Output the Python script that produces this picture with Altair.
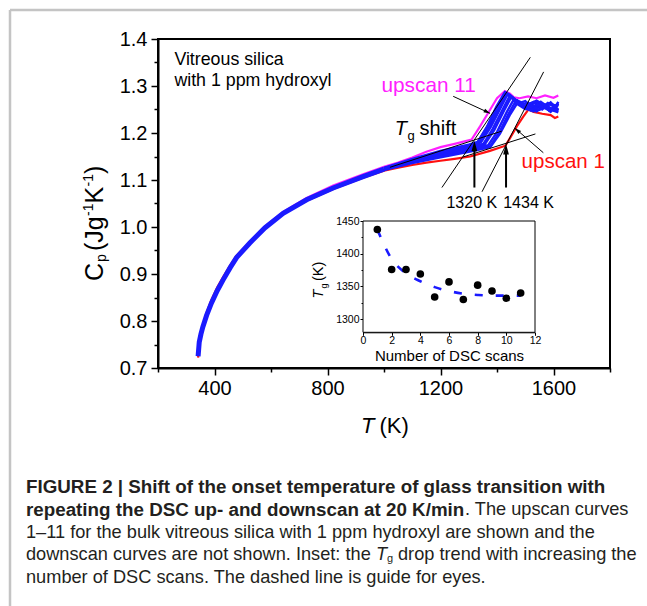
import altair as alt
import pandas as pd

FONT = "Liberation Sans"
W, H = 452, 329
PL, PT = 158, 39

# ---------------- main data ----------------
# shared low-temperature part of the blue upscans 2-10
blue_low_T = [342, 346, 352, 359, 372, 389, 410, 430, 455, 478, 525, 578, 643, 726, 820, 926, 1000]
blue_low_Cp = [0.725, 0.755, 0.772, 0.788, 0.812, 0.838, 0.865, 0.887, 0.913, 0.935, 0.966, 0.998, 1.029, 1.058, 1.083, 1.107, 1.123]

# upscan 1 (red)
red_T = [342, 346, 352, 359, 372, 389, 410, 430, 455, 478, 525, 578, 643, 726, 820, 926, 1000,
         1050, 1100, 1150, 1200, 1250, 1305, 1375, 1430, 1446, 1470, 1493, 1511, 1530, 1560, 1590, 1605, 1617]
red_Cp = [0.722, 0.752, 0.772, 0.790, 0.818, 0.845, 0.872, 0.893, 0.918, 0.939, 0.968, 0.998, 1.028, 1.056, 1.081, 1.105, 1.120,
          1.126, 1.132, 1.137, 1.141, 1.145, 1.150, 1.162, 1.173, 1.189, 1.214, 1.235, 1.250, 1.245, 1.241, 1.238, 1.232, 1.235]

# upscan 11 (magenta)
mag_T = [342, 346, 352, 359, 372, 389, 410, 430, 455, 478, 525, 578, 643, 726, 820, 926, 1000,
         1050, 1100, 1150, 1200, 1250, 1310, 1340, 1375, 1400, 1428, 1445, 1460, 1480, 1510, 1540, 1570, 1600, 1617]
mag_Cp = [0.730, 0.757, 0.774, 0.790, 0.813, 0.839, 0.866, 0.888, 0.914, 0.936, 0.968, 1.001, 1.032, 1.062, 1.088, 1.112, 1.128,
          1.137, 1.148, 1.160, 1.170, 1.177, 1.186, 1.214, 1.249, 1.274, 1.289, 1.284, 1.276, 1.274, 1.278, 1.274, 1.280, 1.275, 1.280]

# high-temperature parts of upscans 2-10 (blue)
scan2_T = [1000, 1100, 1200, 1300, 1376, 1410, 1445, 1470, 1485, 1500, 1530, 1560, 1590, 1617]
scan2_Cp = [1.121, 1.136, 1.148, 1.160, 1.170, 1.198, 1.238, 1.262, 1.264, 1.252, 1.246, 1.262, 1.245, 1.263]
scan3_T = [1000, 1100, 1200, 1300, 1376, 1410, 1440, 1465, 1480, 1497, 1530, 1560, 1590, 1617]
scan3_Cp = [1.122, 1.138, 1.151, 1.163, 1.172, 1.203, 1.240, 1.266, 1.267, 1.258, 1.266, 1.250, 1.265, 1.248]
scan4_T = [1000, 1100, 1200, 1300, 1369, 1400, 1435, 1458, 1472, 1490, 1520, 1555, 1585, 1617]
scan4_Cp = [1.123, 1.139, 1.153, 1.165, 1.174, 1.202, 1.245, 1.270, 1.270, 1.259, 1.250, 1.266, 1.247, 1.262]
scan5_T = [1000, 1100, 1200, 1300, 1334, 1370, 1405, 1432, 1450, 1470, 1500, 1540, 1580, 1617]
scan5_Cp = [1.124, 1.142, 1.158, 1.171, 1.177, 1.210, 1.252, 1.282, 1.277, 1.262, 1.268, 1.246, 1.264, 1.250]
scan6_T = [1000, 1100, 1200, 1300, 1357, 1390, 1425, 1450, 1466, 1485, 1520, 1560, 1600, 1617]
scan6_Cp = [1.123, 1.140, 1.155, 1.168, 1.176, 1.206, 1.248, 1.276, 1.271, 1.260, 1.248, 1.264, 1.249, 1.266]
scan7_T = [1000, 1100, 1200, 1300, 1330, 1365, 1400, 1430, 1448, 1468, 1500, 1540, 1580, 1617]
scan7_Cp = [1.125, 1.143, 1.160, 1.173, 1.179, 1.212, 1.255, 1.285, 1.279, 1.263, 1.251, 1.267, 1.252, 1.244]
scan8_T = [1000, 1100, 1200, 1300, 1352, 1385, 1420, 1445, 1462, 1480, 1510, 1550, 1590, 1617]
scan8_Cp = [1.124, 1.141, 1.157, 1.169, 1.177, 1.209, 1.250, 1.279, 1.273, 1.261, 1.264, 1.249, 1.262, 1.256]
scan9_T = [1000, 1100, 1200, 1300, 1343, 1378, 1412, 1438, 1455, 1472, 1505, 1545, 1585, 1617]
scan9_Cp = [1.125, 1.143, 1.159, 1.172, 1.180, 1.213, 1.253, 1.283, 1.277, 1.263, 1.254, 1.260, 1.248, 1.261]
scan10_T = [1000, 1100, 1200, 1300, 1332, 1365, 1398, 1428, 1446, 1466, 1500, 1540, 1580, 1617]
scan10_Cp = [1.126, 1.145, 1.162, 1.175, 1.181, 1.214, 1.256, 1.287, 1.281, 1.265, 1.257, 1.269, 1.255, 1.246]

blue_scans = {
    "2": (scan2_T, scan2_Cp), "3": (scan3_T, scan3_Cp), "4": (scan4_T, scan4_Cp),
    "5": (scan5_T, scan5_Cp), "6": (scan6_T, scan6_Cp), "7": (scan7_T, scan7_Cp),
    "8": (scan8_T, scan8_Cp), "9": (scan9_T, scan9_Cp), "10": (scan10_T, scan10_Cp),
}

# tangent (onset construction) lines: start T, start Cp, end T, end Cp
tan_T1 = [1205, 1347, 1021, 1280]
tan_Cp1 = [1.084, 1.075, 1.127, 1.149]
tan_T2 = [1518, 1565, 1417, 1536]
tan_Cp2 = [1.361, 1.330, 1.204, 1.198]

# onset arrows
onset_T = [1320, 1432]
onset_base = [1.084, 1.084]
onset_tip = [1.183, 1.176]
onset_head = [1.1725, 1.1655]

# label pointers
ptr_T1 = [1245, 1564]
ptr_Cp1 = [1.278, 1.158]
ptr_T2 = [1375, 1464]
ptr_Cp2 = [1.242, 1.210]
ptr_headT = [1365.5, 1471.5]
ptr_headCp = [1.2448, 1.2058]
ptr_angle = [116, 310]

# inset data
scans = [1, 2, 3, 4, 5, 6, 7, 8, 9, 10, 11]
tg_vals = [1437, 1376, 1376, 1369, 1334, 1357, 1330, 1352, 1343, 1332, 1340]
guide_n = [1, 2, 3, 4, 5, 6, 7, 8, 9, 10, 11]
guide_tg = [1437, 1392, 1370, 1358, 1349, 1343, 1339, 1337, 1336, 1336, 1336]

# ---------------- build tables ----------------
red_df = pd.DataFrame({"series": "1", "T": red_T, "Cp": red_Cp})
mag_df = pd.DataFrame({"series": "11", "T": mag_T, "Cp": mag_Cp})
blue_low_df = pd.DataFrame({"series": "low", "T": blue_low_T, "Cp": blue_low_Cp})
rows = []
for k, (ts, cs) in blue_scans.items():
    for t, c in zip(ts, cs):
        rows.append({"series": k, "T": t, "Cp": c})
blue_df = pd.DataFrame(rows)

tan_df = pd.DataFrame({"T": tan_T1, "Cp": tan_Cp1, "T2": tan_T2, "Cp2": tan_Cp2})
arrow_df = pd.DataFrame({"T": onset_T, "Cp": onset_base, "Cp2": onset_tip, "Ch": onset_head})
ptr_df = pd.DataFrame({"T": ptr_T1, "Cp": ptr_Cp1, "T2": ptr_T2, "Cp2": ptr_Cp2,
                       "Th": ptr_headT, "Ch": ptr_headCp, "ang": ptr_angle})

xs = alt.Scale(domain=[200, 1800], nice=False, zero=False)
ys = alt.Scale(domain=[0.7, 1.4], nice=False, zero=False)

x_axis = alt.Axis(
    values=[200, 400, 600, 800, 1000, 1200, 1400, 1600, 1800],
    labelExpr="datum.value % 400 == 0 ? '' + datum.value : ''",
    tickSize={"condition": {"test": "datum.value % 400 == 0", "value": 7}, "value": 4},
    title=None, grid=False, labelFont=FONT, labelFontSize=20, labelColor="black",
    domainColor="black", domainWidth=2, tickColor="black", tickWidth=1.5, labelPadding=3,
    labelFlush=False, labelOverlap=False,
)
y_axis = alt.Axis(
    values=[0.7, 0.75, 0.8, 0.85, 0.9, 0.95, 1.0, 1.05, 1.1, 1.15, 1.2, 1.25, 1.3, 1.35, 1.4],
    labelExpr="round(datum.value*100) % 10 == 0 ? format(datum.value, '.1f') : ''",
    tickSize={"condition": {"test": "round(datum.value*100) % 10 == 0", "value": 7}, "value": 4},
    title=None, grid=False, labelFont=FONT, labelFontSize=20, labelColor="black",
    domainColor="black", domainWidth=2, tickColor="black", tickWidth=1.5, labelPadding=4,
    labelFlush=False, labelOverlap=False,
)
X = alt.X("T:Q", scale=xs, axis=x_axis)
Y = alt.Y("Cp:Q", scale=ys, axis=y_axis)
X2 = alt.X2("T2:Q")
Y2 = alt.Y2("Cp2:Q")

RED = "#ff1010"
MAG = "#ff20ff"
BLUE = "#1a1aff"

red_line = alt.Chart(red_df).mark_line(color=RED, strokeWidth=2.2).encode(x=X, y=Y)
mag_line = alt.Chart(mag_df).mark_line(color=MAG, strokeWidth=2.2).encode(x=X, y=Y)
blue_low_line = alt.Chart(blue_low_df).mark_line(color=BLUE, strokeWidth=5).encode(x=X, y=Y)
blue_lines = alt.Chart(blue_df).mark_line(color=BLUE, strokeWidth=2.4).encode(
    x=X, y=Y, detail="series:N")

tan_lines = alt.Chart(tan_df).mark_rule(color="black", strokeWidth=1).encode(x=X, y=Y, x2=X2, y2=Y2)
arrow_shafts = alt.Chart(arrow_df).mark_rule(color="black", strokeWidth=2).encode(
    x=X, y=Y, y2=alt.Y2("Ch:Q"))
arrow_heads = alt.Chart(arrow_df).mark_point(
    shape="M0,-1L0.55,1L-0.55,1Z", filled=True, size=110, color="black", opacity=1
).encode(x=X, y=alt.Y("Ch:Q", scale=ys, axis=y_axis))
ptr_lines = alt.Chart(ptr_df).mark_rule(color="black", strokeWidth=1).encode(x=X, y=Y, x2=X2, y2=Y2)
ptr_heads = alt.Chart(ptr_df).mark_point(
    shape="M0,-1L0.6,1L-0.6,1Z", filled=True, size=45, color="black", opacity=1
).encode(x=alt.X("Th:Q", scale=xs, axis=x_axis), y=alt.Y("Ch:Q", scale=ys, axis=y_axis),
         angle=alt.Angle("ang:Q", scale=None))


def dtext(txt, T, Cp, size, color="black", style="normal", align="left"):
    df = pd.DataFrame({"T": [T], "Cp": [Cp], "txt": [txt]})
    return alt.Chart(df).mark_text(
        font=FONT, fontSize=size, color=color, fontStyle=style, align=align, baseline="alphabetic"
    ).encode(x=X, y=Y, text="txt:N")


def ptext(txt, x, y, size, weight="normal", style="normal", align="left",
          baseline="alphabetic", angle=0, color="black"):
    df = pd.DataFrame({"txt": [txt]})
    return alt.Chart(df).mark_text(
        font=FONT, fontSize=size, fontWeight=weight, fontStyle=style, align=align,
        baseline=baseline, angle=angle, color=color
    ).encode(x=alt.value(x - PL), y=alt.value(y - PT), text="txt:N")


annots = [
    dtext("Vitreous silica", 258, 1.345, 17.8),
    dtext("with 1 ppm hydroxyl", 258, 1.299, 17.8),
    dtext("upscan 11", 991, 1.287, 20.8, color=MAG),
    dtext("upscan 1", 1487, 1.126, 20.5, color=RED),
    dtext("T", 1038, 1.196, 20, style="italic"),
    dtext("g", 1083, 1.1853, 13),
    dtext("shift", 1126, 1.196, 20),
    dtext("1320 K", 1221, 1.040, 16),
    dtext("1434 K", 1422, 1.040, 16),
]

# axis titles built from pieces (sub/superscripts)
titles = [
    ptext("T", 361, 433, 22, style="italic"),
    ptext("(K)", 379.5, 433, 22),
    ptext("C", 102.5, 281, 25, angle=270),
    ptext("p", 106, 262, 14, angle=270),
    ptext("(Jg", 102.5, 251, 25, angle=270),
    ptext("-1", 92.5, 216, 14, angle=270),
    ptext("K", 102.5, 203.5, 25, angle=270),
    ptext("-1", 92.5, 186.5, 14, angle=270),
    ptext(")", 102.5, 174, 25, angle=270),
]

CAP = "#231f20"
BS, RS = 18.8, 18.2
caption = [
    ptext("FIGURE 2 | Shift of the onset temperature of glass transition with", 26, 486.5, BS,
          weight="bold", baseline="middle", color=CAP),
    ptext("repeating the DSC up- and downscan at 20 K/min", 26, 509.5, BS, weight="bold",
          baseline="middle", color=CAP),
    ptext(". The upscan curves", 465, 509.5, RS, baseline="middle", color=CAP),
    ptext("1\u201311 for the bulk vitreous silica with 1 ppm hydroxyl are shown and the", 26, 532.5, RS,
          baseline="middle", color=CAP),
    ptext("downscan curves are not shown. Inset: the", 26, 555, RS, baseline="middle", color=CAP),
    ptext("T", 376, 555, RS, style="italic", baseline="middle", color=CAP),
    ptext("g", 387, 559, 11, baseline="middle", color=CAP),
    ptext("drop trend with increasing the", 398, 555, RS, baseline="middle", color=CAP),
    ptext("number of DSC scans. The dashed line is guide for eyes.", 26, 577.5, RS,
          baseline="middle", color=CAP),
]

one = pd.DataFrame({"a": [0]})
border_top = alt.Chart(one).mark_rule(color="#c4c4c4", strokeWidth=2.5).encode(
    x=alt.value(10 - PL), x2=alt.value(647 - PL), y=alt.value(10 - PT))
border_left = alt.Chart(one).mark_rule(color="#c4c4c4", strokeWidth=2.5).encode(
    x=alt.value(10 - PL), y=alt.value(10 - PT), y2=alt.value(606 - PT))

main = alt.layer(
    red_line, mag_line, blue_low_line, blue_lines,
    tan_lines, arrow_shafts, arrow_heads, ptr_lines, ptr_heads,
    *annots, *titles, *caption, border_top, border_left,
)

# ---------------- inset ----------------
ix = alt.Scale(domain=[0, 12], range=[363 - PL, 535 - PL], nice=False, zero=False)
iy = alt.Scale(domain=[1280, 1450], range=[332.3 - PT, 221 - PT], nice=False, zero=False)
ix_axis = alt.Axis(
    orient="bottom", offset=-(PT + H - 332.3), values=[0, 2, 4, 6, 8, 10, 12], format="d",
    title="Number of DSC scans", titleFont=FONT, titleFontSize=15, titleFontWeight="normal",
    titleColor="black", titlePadding=2, labelFont=FONT, labelFontSize=10.5, labelColor="black",
    domainColor="black", domainWidth=1, tickColor="black", tickSize=3, tickWidth=1,
    labelPadding=0.5, grid=False, labelFlush=False,
)
iy_axis = alt.Axis(
    orient="left", offset=-(363 - PL), values=[1300, 1325, 1350, 1375, 1400, 1425, 1450],
    labelExpr="datum.value % 50 == 0 ? '' + datum.value : ''",
    tickSize={"condition": {"test": "datum.value % 50 == 0", "value": 3}, "value": 2},
    title=None, labelFont=FONT, labelFontSize=10.5, labelColor="black",
    domainColor="black", domainWidth=1, tickColor="black", tickWidth=1,
    labelPadding=1, grid=False, labelFlush=False,
)
IX = alt.X("n:Q", scale=ix, axis=ix_axis)
IY = alt.Y("tg:Q", scale=iy, axis=iy_axis)

frame_df = pd.DataFrame({"n": [0], "n2": [12], "tg": [1280], "tg2": [1450]})
inset_frame = alt.Chart(frame_df).mark_rect(fill="white", stroke="black", strokeWidth=1).encode(
    x=IX, x2="n2:Q", y=IY, y2="tg2:Q")
guide_df = pd.DataFrame({"n": guide_n, "tg": guide_tg})
inset_guide = alt.Chart(guide_df).mark_line(
    color=BLUE, strokeWidth=2.6, strokeDash=[8, 13], interpolate="monotone").encode(x=IX, y=IY)
pts_df = pd.DataFrame({"n": scans, "tg": tg_vals})
inset_pts = alt.Chart(pts_df).mark_circle(color="black", size=58, opacity=1).encode(x=IX, y=IY)

inset_titles = [
    ptext("T", 323.3, 298.5, 14.5, style="italic", angle=270),
    ptext("g", 326.5, 288.5, 9, angle=270),
    ptext("(K)", 323.3, 281, 14.5, angle=270),
]

inset = alt.layer(inset_frame, inset_guide, inset_pts, *inset_titles)

chart = alt.layer(main, inset).resolve_scale(
    x="independent", y="independent"
).resolve_axis(x="independent", y="independent").properties(
    width=W, height=H,
    autosize=alt.AutoSizeParams(type="none"),
    padding={"left": PL, "top": PT, "right": 647 - PL - W, "bottom": 606 - PT - H},
    background="white",
).configure_view(stroke="black", strokeWidth=2)

chart.save("out.html", embed_options={"renderer": "svg", "actions": False})
